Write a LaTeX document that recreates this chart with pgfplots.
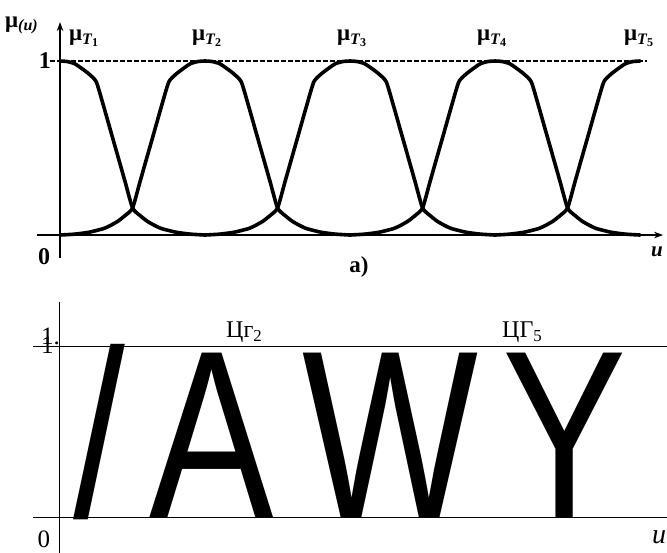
\documentclass[border=0pt]{standalone}
\usepackage{pgfplots}
\pgfplotsset{compat=1.18}
\usepackage{fontspec}
\setmainfont{Liberation Serif}
\newfontfamily\bigsans{Liberation Sans}
\usetikzlibrary{arrows.meta}
\usepackage{graphicx}

% membership curve style
\tikzset{mf/.style={line width=3.6pt, black, smooth, tension=0.35, line cap=round, line join=round}}
% subscripted mu label
\newcommand{\muT}[1]{μ\raisebox{-0.35ex}{\fontsize{16}{16}\selectfont\itshape T\raisebox{-0.3ex}{\fontsize{12}{12}\selectfont\upshape #1}}}

\begin{document}
\begin{tikzpicture}[x=1pt,y=1pt]

% ---------- panel a) ----------
\begin{axis}[
  at={(37pt,295pt)}, anchor=south west,
  x=145pt, y=174pt,
  xmin=-0.159, xmax=4.159, ymin=-0.132, ymax=1.224,
  axis lines=middle,
  ticks=none,
  clip=false,
  axis line style={line width=2.4pt, -{Stealth[length=9pt,width=6.5pt]}},
]
% level 1
\addplot[line width=1.4pt, dash pattern=on 5pt off 2pt] coordinates {(-0.07,1) (4.05,1)};
% T1
\addplot[mf] coordinates {(0,1) (0.05,0.997) (0.10,0.985) (0.15,0.957) (0.20,0.925) (0.25,0.880) (0.30,0.742) (0.35,0.595) (0.40,0.449) (0.45,0.302) (0.50,0.155) (0.55,0.113) (0.60,0.080) (0.65,0.056) (0.70,0.037) (0.80,0.016) (0.90,0.005) (1.00,0)};
% T2
\addplot[mf] coordinates {(0.00,0) (0.10,0.005) (0.20,0.016) (0.30,0.037) (0.35,0.056) (0.40,0.080) (0.45,0.113) (0.50,0.155) (0.55,0.302) (0.60,0.449) (0.65,0.595) (0.70,0.742) (0.75,0.880) (0.80,0.925) (0.85,0.957) (0.90,0.985) (0.95,0.997) (1.00,1) (1.05,0.997) (1.10,0.985) (1.15,0.957) (1.20,0.925) (1.25,0.880) (1.30,0.742) (1.35,0.595) (1.40,0.449) (1.45,0.302) (1.50,0.155) (1.55,0.113) (1.60,0.080) (1.65,0.056) (1.70,0.037) (1.80,0.016) (1.90,0.005) (2.00,0)};
% T3
\addplot[mf] coordinates {(1.00,0) (1.10,0.005) (1.20,0.016) (1.30,0.037) (1.35,0.056) (1.40,0.080) (1.45,0.113) (1.50,0.155) (1.55,0.302) (1.60,0.449) (1.65,0.595) (1.70,0.742) (1.75,0.880) (1.80,0.925) (1.85,0.957) (1.90,0.985) (1.95,0.997) (2.00,1) (2.05,0.997) (2.10,0.985) (2.15,0.957) (2.20,0.925) (2.25,0.880) (2.30,0.742) (2.35,0.595) (2.40,0.449) (2.45,0.302) (2.50,0.155) (2.55,0.113) (2.60,0.080) (2.65,0.056) (2.70,0.037) (2.80,0.016) (2.90,0.005) (3.00,0)};
% T4
\addplot[mf] coordinates {(2.00,0) (2.10,0.005) (2.20,0.016) (2.30,0.037) (2.35,0.056) (2.40,0.080) (2.45,0.113) (2.50,0.155) (2.55,0.302) (2.60,0.449) (2.65,0.595) (2.70,0.742) (2.75,0.880) (2.80,0.925) (2.85,0.957) (2.90,0.985) (2.95,0.997) (3.00,1) (3.05,0.997) (3.10,0.985) (3.15,0.957) (3.20,0.925) (3.25,0.880) (3.30,0.742) (3.35,0.595) (3.40,0.449) (3.45,0.302) (3.50,0.155) (3.55,0.113) (3.60,0.080) (3.65,0.056) (3.70,0.037) (3.80,0.016) (3.90,0.005) (4.00,0)};
% T5
\addplot[mf] coordinates {(3.00,0) (3.10,0.005) (3.20,0.016) (3.30,0.037) (3.35,0.056) (3.40,0.080) (3.45,0.113) (3.50,0.155) (3.55,0.302) (3.60,0.449) (3.65,0.595) (3.70,0.742) (3.75,0.880) (3.80,0.925) (3.85,0.957) (3.90,0.985) (3.95,0.997) (4.00,1)};
\end{axis}

% labels of panel a)
\begin{scope}[every node/.style={inner sep=0pt, font=\bfseries\fontsize{23}{23}\selectfont}]
\node[anchor=base west] at (5,525) {μ\raisebox{-0.25ex}{\fontsize{16}{16}\selectfont\itshape(u)}};
\node[anchor=east, font=\bfseries\fontsize{24}{24}\selectfont] at (51,492) {1};
\node[font=\bfseries\fontsize{24}{24}\selectfont] at (44,296) {0};
\node[anchor=base west] at (69,512) {\muT{1}};
\node[anchor=base west] at (192,512) {\muT{2}};
\node[anchor=base west] at (337,512) {\muT{3}};
\node[anchor=base west] at (477,512) {\muT{4}};
\node[anchor=base west] at (624,512) {\muT{5}};
\node at (359,286) {a)};
\node[font=\bfseries\itshape\fontsize{21}{21}\selectfont] at (657,301) {u};
\end{scope}

% ---------- lower panel ----------
\begin{axis}[
  at={(33pt,-2pt)}, anchor=south west,
  x=145pt, y=171pt,
  xmin=-0.186, xmax=4.186, ymin=-0.22, ymax=1.257,
  axis lines=middle,
  ticks=none,
  clip=false,
  axis line style={line width=1pt, -},
]
\addplot[line width=1pt] coordinates {(-0.186,1) (4.186,1)};
\begin{scope}[every node/.style={inner sep=0pt, anchor=base, font=\bigsans\fontsize{239}{239}\selectfont}]
\node at (axis cs:0.269,0) {\scalebox{0.78}[1]{/}};
\node at (axis cs:1.048,0) {\scalebox{0.78}[1]{A}};
\node at (axis cs:2.276,0) {\scalebox{0.78}[1]{W}};
\node at (axis cs:3.483,0) {\scalebox{0.78}[1]{Y}};
\end{scope}
\end{axis}

\begin{scope}[every node/.style={inner sep=0pt, font=\fontsize{25}{25}\selectfont}]
\node[anchor=base west] at (41,208) {1.};
\node[anchor=base west] at (41,199) {1};
\node at (44,14) {0};
\node[anchor=base west, font=\fontsize{24}{24}\selectfont] at (226,215) {Цг\textsubscript{2}};
\node[anchor=base west, font=\fontsize{24}{24}\selectfont] at (502,215) {ЦГ\textsubscript{5}};
\node[anchor=base west, font=\itshape\fontsize{28}{28}\selectfont] at (652,9) {u};
\end{scope}

% page frame
\pgfresetboundingbox
\path[use as bounding box] (0,0) rectangle (667,553);
\end{tikzpicture}
\end{document}
